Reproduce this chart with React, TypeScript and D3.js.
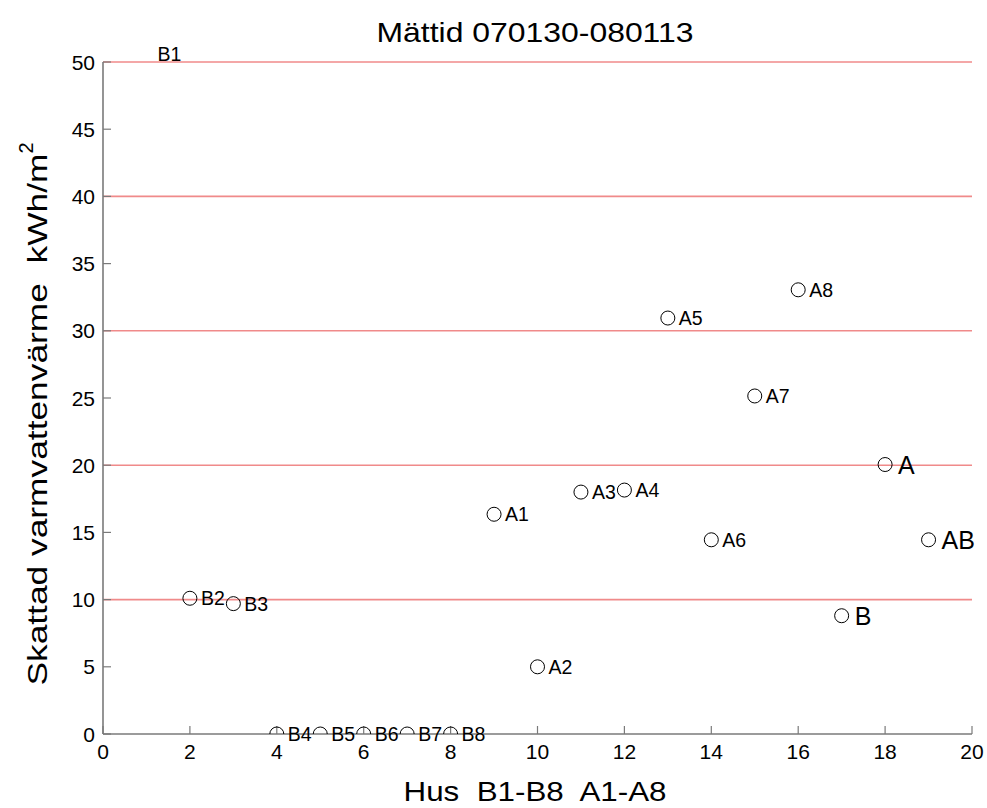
import React from "react";
import * as d3 from "d3";

const labels = ["B1", "B2", "B3", "B4", "B5", "B6", "B7", "B8", "A1", "A2", "A3", "A4", "A5", "A6", "A7", "A8", "B", "A", "AB"];
const xValues = [1, 2, 3, 4, 5, 6, 7, 8, 9, 10, 11, 12, 13, 14, 15, 16, 17, 18, 19];
const yValues = [50.6, 10.1, 9.7, 0, 0, 0, 0, 0, 16.35, 5.0, 18.0, 18.15, 30.95, 14.45, 25.15, 33.05, 8.8, 20.05, 14.45];
const bigLabels = ["B", "A", "AB"];
const xTicks = [0, 2, 4, 6, 8, 10, 12, 14, 16, 18, 20];
const yTicks = [0, 5, 10, 15, 20, 25, 30, 35, 40, 45, 50];
const gridValues = [10, 20, 30, 40, 50];

const W = 987, H = 808;
const L = 103, R = 972, T = 62, B = 734;

export default function App() {
  const x = d3.scaleLinear().domain([0, 20]).range([L, R]);
  const y = d3.scaleLinear().domain([0, 50]).range([B, T]);
  const font = "Liberation Sans, Arial, sans-serif";
  const axisColor = "#7a7a7a";
  return (
    <div style={{ position: "absolute", left: 0, top: 0 }}>
      <svg width={W} height={H} style={{ display: "block", background: "#fff" }} fontFamily={font}>
        <defs>
          <clipPath id="plotclip">
            <rect x={L} y={T} width={R - L} height={B - T} />
          </clipPath>
        </defs>
        {gridValues.map((v) => (
          <line key={"g" + v} x1={L} x2={R} y1={y(v)} y2={y(v)} stroke="#f08a8a" strokeWidth={1.6} />
        ))}
        <line x1={L} x2={L} y1={T} y2={B} stroke={axisColor} strokeWidth={1.6} />
        <line x1={L} x2={R} y1={B} y2={B} stroke={axisColor} strokeWidth={1.6} />
        {xTicks.map((t) => (
          <g key={"xt" + t}>
            <line x1={x(t)} x2={x(t)} y1={B} y2={B - 8} stroke={axisColor} strokeWidth={1.2} />
            <text x={x(t)} y={B + 25} fontSize={21} textAnchor="middle" fill="#000">{t}</text>
          </g>
        ))}
        {yTicks.map((t) => (
          <g key={"yt" + t}>
            <line x1={L} x2={L + 8} y1={y(t)} y2={y(t)} stroke={axisColor} strokeWidth={1.2} />
            <text x={L - 8} y={y(t)} fontSize={21} textAnchor="end" dominantBaseline="central" fill="#000">{t}</text>
          </g>
        ))}
        <g clipPath="url(#plotclip)">
          {xValues.map((xv, i) => (
            <circle key={"c" + i} cx={x(xv)} cy={y(yValues[i])} r={7} fill="none" stroke="#000" strokeWidth={1} />
          ))}
        </g>
        {xValues.map((xv, i) => {
          const big = bigLabels.includes(labels[i]);
          return (
            <text key={"l" + i} x={x(xv) + (big ? 13 : 11)} y={y(yValues[i])} fontSize={big ? 25 : 19.5} dominantBaseline="central" fill="#000">
              {labels[i]}
            </text>
          );
        })}
        <text x={535} y={42} fontSize={28} textAnchor="middle" fill="#000" textLength={317} lengthAdjust="spacingAndGlyphs">Mättid 070130-080113</text>
        <text x={535} y={801} fontSize={28} textAnchor="middle" fill="#000" textLength={263} lengthAdjust="spacingAndGlyphs" style={{ whiteSpace: "pre" }}>Hus  B1-B8  A1-A8</text>
        <text transform={`translate(47,${414}) rotate(-90)`} fontSize={28} textAnchor="middle" fill="#000" style={{ whiteSpace: "pre" }}>
          <tspan textLength={532} lengthAdjust="spacingAndGlyphs">Skattad varmvattenvärme  kWh/m</tspan>
          <tspan fontSize={20} dy={-14}>2</tspan>
        </text>
      </svg>
    </div>
  );
}
